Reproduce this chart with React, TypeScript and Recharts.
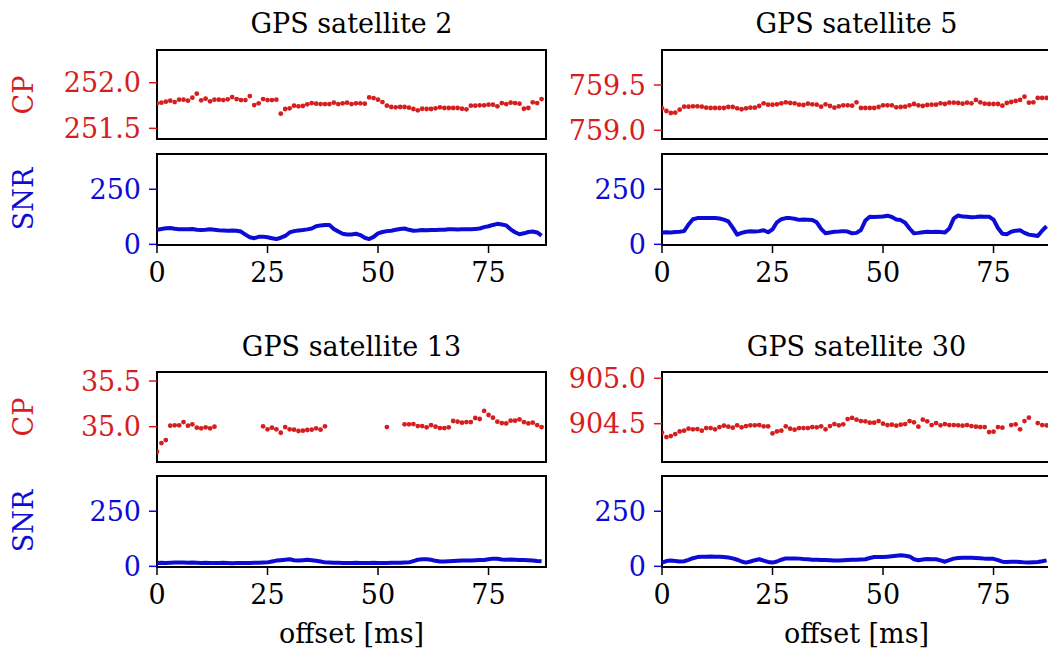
import {
  ScatterChart,
  Scatter,
  LineChart,
  Line,
  XAxis,
  YAxis,
  ReferenceArea
} from 'recharts'

// ============================================
// DADOS
// ============================================

const offsetsMs = [
  0, 1, 2, 3, 4, 5, 6, 7, 8, 9, 10, 11, 12, 13, 14, 15, 16, 17, 18, 19, 20, 21,
  22, 23, 24, 25, 26, 27, 28, 29, 30, 31, 32, 33, 34, 35, 36, 37, 38, 39, 40, 41,
  42, 43, 44, 45, 46, 47, 48, 49, 50, 51, 52, 53, 54, 55, 56, 57, 58, 59, 60, 61,
  62, 63, 64, 65, 66, 67, 68, 69, 70, 71, 72, 73, 74, 75, 76, 77, 78, 79, 80, 81,
  82, 83, 84, 85, 86, 87
]

const xTicks = [0, 25, 50, 75]
const snrTicks = [0, 250]

const sat2Cp = [
  251.774, 251.781, 251.792, 251.803, 251.788, 251.814, 251.814, 251.803, 251.836, 251.880,
  251.807, 251.825, 251.796, 251.814, 251.814, 251.810, 251.818, 251.843, 251.821, 251.810,
  251.810, 251.854, 251.755, 251.774, 251.821, 251.810, 251.810, 251.814, 251.661, 251.712,
  251.719, 251.748, 251.741, 251.745, 251.763, 251.777, 251.770, 251.766, 251.766, 251.766,
  251.781, 251.766, 251.774, 251.781, 251.766, 251.774, 251.774, 251.770, 251.839, 251.832,
  251.814, 251.788, 251.748, 251.734, 251.730, 251.734, 251.734, 251.726, 251.712, 251.697,
  251.715, 251.712, 251.712, 251.719, 251.730, 251.723, 251.723, 251.723, 251.723, 251.715,
  251.708, 251.748, 251.748, 251.752, 251.752, 251.759, 251.759, 251.741, 251.777, 251.766,
  251.781, 251.777, 251.770, 251.715, 251.723, 251.785, 251.777, 251.821
]

const sat2Snr = [
  66, 70, 73, 74, 71, 69, 68, 69, 70, 66, 65, 66, 68, 66, 64, 63, 62, 63, 62, 58,
  44, 32, 28, 34, 35, 32, 28, 24, 30, 38, 54, 60, 63, 65, 68, 72, 82, 86, 88, 88,
  70, 58, 48, 45, 45, 48, 42, 30, 24, 34, 50, 56, 60, 62, 66, 70, 72, 66, 62, 63,
  65, 64, 65, 65, 66, 66, 68, 69, 67, 68, 69, 68, 70, 72, 78, 82, 88, 93, 90, 86,
  68, 55, 46, 50, 56, 58, 54, 40
]

const sat5Cp = [
  759.243, 759.213, 759.191, 759.195, 759.228, 759.261, 759.261, 759.265, 759.265, 759.261,
  759.250, 759.246, 759.246, 759.246, 759.246, 759.257, 759.257, 759.243, 759.232, 759.243,
  759.250, 759.250, 759.268, 759.298, 759.283, 759.283, 759.287, 759.298, 759.309, 759.301,
  759.298, 759.283, 759.279, 759.294, 759.287, 759.283, 759.261, 759.287, 759.268, 759.250,
  759.265, 759.276, 759.276, 759.272, 759.309, 759.246, 759.246, 759.246, 759.246, 759.257,
  759.276, 759.276, 759.276, 759.254, 759.257, 759.261, 759.276, 759.290, 759.276, 759.268,
  759.279, 759.283, 759.283, 759.298, 759.290, 759.305, 759.305, 759.301, 759.294, 759.305,
  759.298, 759.335, 759.309, 759.294, 759.290, 759.290, 759.290, 759.272, 759.301, 759.312,
  759.324, 759.335, 759.371, 759.305, 759.309, 759.357, 759.357, 759.357
]

const sat5Snr = [
  54, 55, 54, 56, 57, 60, 90, 114, 119, 120, 120, 119, 120, 117, 112, 104, 76, 44, 52, 57,
  59, 58, 60, 64, 55, 68, 100, 114, 119, 119, 116, 111, 113, 112, 111, 100, 70, 50, 54, 57,
  58, 60, 58, 50, 52, 65, 108, 125, 124, 125, 126, 130, 124, 113, 110, 98, 72, 50, 52, 55,
  57, 56, 57, 56, 54, 72, 118, 131, 126, 125, 123, 124, 126, 125, 125, 112, 74, 48, 46, 57,
  62, 64, 52, 44, 41, 38, 62, 82
]

// null = época sem medida de fase
const sat13Cp = [
  34.726, 34.821, 34.854, 35.011, 35.015, 35.015, 35.051, 35.011, 35.026, 34.989,
  34.982, 34.993, 34.982, 35.000, null, null, null, null, null, null,
  null, null, null, null, 35.004, 34.971, 34.989, 34.971, 34.934, 34.996,
  34.971, 34.967, 34.953, 34.956, 34.964, 34.967, 34.982, 34.967, 35.004, null,
  null, null, null, null, null, null, null, null, null, null,
  null, null, 34.996, null, null, null, 35.026, 35.026, 35.029, 35.007,
  35.007, 34.993, 35.018, 35.000, 34.985, 34.985, 34.993, 35.062, 35.055, 35.044,
  35.051, 35.051, 35.095, 35.084, 35.172, 35.128, 35.099, 35.055, 35.040, 35.036,
  35.066, 35.066, 35.080, 35.051, 35.036, 35.044, 35.018, 34.996
]

const sat13Snr = [
  15, 16, 15, 16, 17, 17, 17, 16, 17, 16, 15, 16, 15, 15, 15, 16, 15, 14, 15, 15,
  15, 15, 16, 16, 17, 18, 22, 26, 28, 30, 32, 28, 26, 28, 30, 28, 25, 22, 18, 17,
  16, 16, 15, 15, 15, 16, 15, 15, 15, 16, 15, 15, 15, 16, 16, 16, 17, 18, 24, 30,
  32, 32, 30, 25, 22, 22, 23, 24, 25, 26, 26, 27, 28, 29, 29, 32, 35, 34, 31, 30,
  31, 30, 29, 29, 28, 26, 24, 23
]

const sat30Cp = [
  904.401, 904.353, 904.364, 904.386, 904.415, 904.423, 904.445, 904.438, 904.441, 904.423,
  904.452, 904.452, 904.438, 904.463, 904.478, 904.467, 904.456, 904.482, 904.460, 904.474,
  904.482, 904.482, 904.485, 904.471, 904.471, 904.393, 904.415, 904.423, 904.471, 904.445,
  904.434, 904.452, 904.452, 904.452, 904.463, 904.460, 904.471, 904.438, 904.474, 904.496,
  904.482, 904.493, 904.551, 904.563, 904.544, 904.529, 904.526, 904.511, 904.511, 904.529,
  904.500, 904.485, 904.489, 904.478, 904.489, 904.496, 904.529, 904.515, 904.467, 904.544,
  904.526, 904.485, 904.507, 904.482, 904.496, 904.485, 904.485, 904.482, 904.478, 904.485,
  904.474, 904.467, 904.463, 904.463, 904.408, 904.412, 904.463, 904.456, null, 904.485,
  904.493, 904.438, 904.529, 904.566, null, 904.507, 904.485, 904.482
]

const sat30Snr = [
  17, 24, 26, 24, 22, 23, 29, 37, 42, 44, 44, 45, 44, 44, 42, 40, 36, 30, 22, 17,
  22, 28, 32, 26, 20, 17, 22, 30, 36, 36, 36, 35, 33, 32, 30, 30, 29, 29, 28, 27,
  27, 28, 29, 30, 30, 31, 32, 38, 42, 42, 42, 44, 46, 48, 50, 48, 45, 32, 28, 31,
  33, 32, 32, 27, 21, 28, 35, 38, 39, 39, 39, 38, 37, 35, 35, 34, 28, 21, 20, 21,
  21, 20, 18, 17, 19, 20, 23, 27
]

// ============================================
// ESTILO / GEOMETRIA
// ============================================

const FONT = '"DejaVu Serif", serif'
const FS = 27
const RED = '#d61e1e'
const BLUE = '#0c0cd6'
const X_DOMAIN: [number, number] = [0, 88]
const PLOT_W = 389
const AXIS_W = 150
const PAD = 4
const VPAD = 20
const X_AXIS_H = 50

const toPoints = (values: (number | null)[]) =>
  offsetsMs
    .map((t, i) => ({ t, v: values[i] }))
    .filter((p) => p.v !== null)

const CpDot = (props: any) => (
  <circle cx={props.cx} cy={props.cy} r={2.4} fill={RED} />
)

interface CpPanelProps {
  left: number
  top: number
  height: number
  values: (number | null)[]
  domain: [number, number]
  ticks: number[]
}

function CpPanel({ left, top, height, values, domain, ticks }: CpPanelProps) {
  return (
    <div style={{ position: 'absolute', left: left - AXIS_W, top: top - VPAD }}>
      <ScatterChart
        width={AXIS_W + PLOT_W + PAD}
        height={height + 2 * VPAD}
        margin={{ top: VPAD, right: PAD, bottom: VPAD, left: 0 }}
      >
        <XAxis type="number" dataKey="t" domain={X_DOMAIN} hide allowDataOverflow />
        <YAxis
          type="number"
          dataKey="v"
          domain={domain}
          ticks={ticks}
          interval={0}
          allowDataOverflow
          width={AXIS_W}
          axisLine={false}
          stroke={RED}
          tickLine={{ stroke: RED, strokeWidth: 1.5 }}
          tickSize={8}
          tickMargin={8}
          tick={{ fill: RED, fontSize: FS, fontFamily: FONT }}
          tickFormatter={(v: number) => v.toFixed(1)}
        />
        <Scatter data={toPoints(values)} fill={RED} shape={CpDot} isAnimationActive={false} />
        <ReferenceArea
          x1={X_DOMAIN[0]}
          x2={X_DOMAIN[1]}
          y1={domain[0]}
          y2={domain[1]}
          fill="none"
          stroke="#000"
          strokeWidth={2}
          ifOverflow="visible"
        />
      </ScatterChart>
    </div>
  )
}

interface SnrPanelProps {
  left: number
  top: number
  height: number
  values: number[]
}

function SnrPanel({ left, top, height, values }: SnrPanelProps) {
  const domain: [number, number] = [-3, 410]
  return (
    <div style={{ position: 'absolute', left: left - AXIS_W, top: top - VPAD }}>
      <LineChart
        width={AXIS_W + PLOT_W + PAD}
        height={height + VPAD + X_AXIS_H}
        data={toPoints(values)}
        margin={{ top: VPAD, right: PAD, bottom: 0, left: 0 }}
      >
        <XAxis
          type="number"
          dataKey="t"
          domain={X_DOMAIN}
          ticks={xTicks}
          interval={0}
          allowDataOverflow
          height={X_AXIS_H}
          axisLine={false}
          stroke="#000"
          tickLine={{ stroke: '#000', strokeWidth: 1.5 }}
          tickSize={8}
          tickMargin={10}
          tick={{ fill: '#000', fontSize: FS, fontFamily: FONT }}
        />
        <YAxis
          type="number"
          domain={domain}
          ticks={snrTicks}
          interval={0}
          allowDataOverflow
          width={AXIS_W}
          axisLine={false}
          stroke={BLUE}
          tickLine={{ stroke: BLUE, strokeWidth: 1.5 }}
          tickSize={8}
          tickMargin={8}
          tick={{ fill: BLUE, fontSize: FS, fontFamily: FONT }}
        />
        <Line
          type="linear"
          dataKey="v"
          stroke={BLUE}
          strokeWidth={4}
          strokeLinejoin="round"
          dot={false}
          isAnimationActive={false}
        />
        <ReferenceArea
          x1={X_DOMAIN[0]}
          x2={X_DOMAIN[1]}
          y1={domain[0]}
          y2={domain[1]}
          fill="none"
          stroke="#000"
          strokeWidth={2}
          ifOverflow="visible"
        />
      </LineChart>
    </div>
  )
}

const textBase = {
  position: 'absolute' as const,
  fontFamily: FONT,
  fontSize: FS,
  lineHeight: `${FS}px`,
  whiteSpace: 'nowrap' as const
}

function Title({ x, y, text }: { x: number; y: number; text: string }) {
  return (
    <div style={{ ...textBase, left: x, top: y, transform: 'translate(-50%, -50%)', color: '#000' }}>
      {text}
    </div>
  )
}

function SideLabel({ y, text, color }: { y: number; text: string; color: string }) {
  return (
    <div
      style={{
        ...textBase,
        left: 23,
        top: y,
        color,
        transform: 'translate(-50%, -50%) rotate(-90deg)'
      }}
    >
      {text}
    </div>
  )
}

// ============================================
// FIGURA 2x2
// ============================================

const LEFT_X = 157
const RIGHT_X = 662
const LEFT_MID = LEFT_X + PLOT_W / 2
const RIGHT_MID = RIGHT_X + PLOT_W / 2

export default function App() {
  return (
    <div
      style={{
        position: 'absolute',
        left: 0,
        top: 0,
        width: 1048,
        height: 651,
        overflow: 'hidden',
        background: '#fff'
      }}
    >
      <Title x={LEFT_MID} y={23} text="GPS satellite 2" />
      <Title x={RIGHT_MID} y={23} text="GPS satellite 5" />
      <Title x={LEFT_MID} y={346} text="GPS satellite 13" />
      <Title x={RIGHT_MID} y={346} text="GPS satellite 30" />

      <CpPanel left={LEFT_X} top={50} height={89} values={sat2Cp} domain={[251.383, 252.359]} ticks={[251.5, 252.0]} />
      <SnrPanel left={LEFT_X} top={154} height={91} values={sat2Snr} />
      <CpPanel left={RIGHT_X} top={50} height={89} values={sat5Cp} domain={[758.904, 759.886]} ticks={[759.0, 759.5]} />
      <SnrPanel left={RIGHT_X} top={154} height={91} values={sat5Snr} />

      <CpPanel left={LEFT_X} top={372} height={90} values={sat13Cp} domain={[34.614, 35.598]} ticks={[35.0, 35.5]} />
      <SnrPanel left={LEFT_X} top={476} height={91} values={sat13Snr} />
      <CpPanel left={RIGHT_X} top={372} height={90} values={sat30Cp} domain={[904.078, 905.069]} ticks={[904.5, 905.0]} />
      <SnrPanel left={RIGHT_X} top={476} height={91} values={sat30Snr} />

      <SideLabel y={95} text="CP" color={RED} />
      <SideLabel y={199} text="SNR" color={BLUE} />
      <SideLabel y={417} text="CP" color={RED} />
      <SideLabel y={521} text="SNR" color={BLUE} />

      <Title x={LEFT_MID} y={633} text="offset [ms]" />
      <Title x={RIGHT_MID} y={633} text="offset [ms]" />
    </div>
  )
}
